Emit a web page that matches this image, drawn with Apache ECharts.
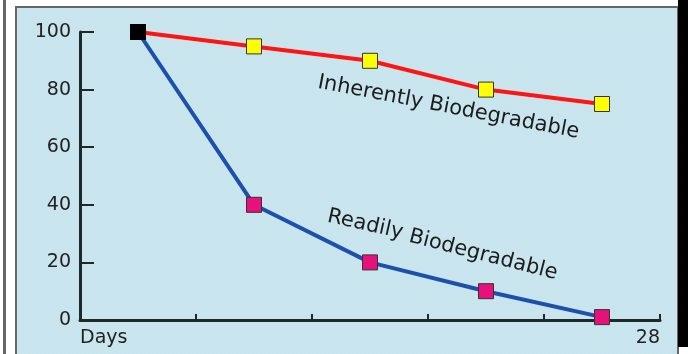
<!DOCTYPE html>
<html>
<head>
<meta charset="utf-8">
<script src="https://cdn.jsdelivr.net/npm/echarts@6/dist/echarts.min.js"></script>
<style>
    html, body {margin: 0; padding: 0; background: #fff;}
    #chart {width: 688px; height: 354px;}
</style>
</head>
<body>
<div id="chart"></div>
<script>
// data
var periods = ["p1", "p2", "p3", "p4", "p5"];
var inherentlyValues = [100, 95, 90, 80, 75];
var readilyValues = [100, 40, 20, 10, 1];
var dayTicks = [0, 28];
var dayLabels = {0: "Days", 28: "28"};

// dithered light blue background
function makePattern() {
    var c = document.createElement("canvas");
    c.width = 4;
    c.height = 4;
    var ctx = c.getContext("2d");
    ctx.fillStyle = "#bdeee4";
    ctx.fillRect(0, 0, 4, 4);
    ctx.fillStyle = "#d4dcf8";
    ctx.fillRect(0, 0, 2, 2);
    ctx.fillRect(2, 2, 2, 2);
    return c;
}

// first point is drawn black
function withFirstBlack(values) {
    let out = [];
    for (let i = 0; i < values.length; i++) {
        if (i === 0) {
            out.push({value: values[i], itemStyle: {color: "#000", borderColor: "#000"}});
        } else {
            out.push(values[i]);
        }
    }
    return out;
}

var myChart = echarts.init(document.getElementById("chart"));
var font = "DejaVu Sans";

var option = {
    animation: false,
    backgroundColor: "#fff",
    graphic: [
        {type: "rect", z: -10, shape: {x: 3, y: 0, width: 3, height: 354}, style: {fill: "#666"}},
        {type: "rect", z: -10, shape: {x: 16, y: 7, width: 662, height: 350},
            style: {fill: {image: makePattern(), repeat: "repeat"}, stroke: "#666", lineWidth: 2}},
        {type: "rect", z: -9, shape: {x: 678, y: 0, width: 10, height: 347}, style: {fill: "#000"}},
        {type: "text", x: 320, y: 72, rotation: -0.19, z: 10,
            style: {text: "Inherently Biodegradable", fill: "#1c1c1c", font: "21px " + font}},
        {type: "text", x: 330, y: 206, rotation: -0.22, z: 10,
            style: {text: "Readily", fill: "#1c1c1c", font: "21px " + font}},
        {type: "text", x: 412, y: 226, rotation: -0.25, z: 10,
            style: {text: "Biodegradable", fill: "#1c1c1c", font: "21px " + font}}
    ],
    grid: {left: 80, right: 28, top: 32, bottom: 34},
    xAxis: [{
        type: "category",
        data: periods,
        boundaryGap: true,
        axisLine: {lineStyle: {color: "#1e2a2a", width: 3}},
        axisTick: {show: true, inside: true, length: 6, alignWithLabel: false, lineStyle: {color: "#1e2a2a", width: 2}},
        axisLabel: {show: false}
    }, {
        type: "value",
        position: "bottom",
        min: dayTicks[0],
        max: dayTicks[1],
        interval: 28,
        axisLine: {show: false},
        axisTick: {show: false},
        splitLine: {show: false},
        axisLabel: {
            margin: 9,
            color: "#222",
            fontFamily: font,
            fontSize: 19,
            alignMinLabel: "left",
            alignMaxLabel: "right",
            formatter: function (v) {
                return dayLabels[v];
            }
        }
    }],
    yAxis: {
        type: "value",
        min: 0,
        max: 100,
        interval: 20,
        splitLine: {show: false},
        axisLine: {show: true, lineStyle: {color: "#1e2a2a", width: 3}},
        axisTick: {show: true, inside: true, length: 14, lineStyle: {color: "#1e2a2a", width: 2}},
        axisLabel: {margin: 9, color: "#222", fontFamily: font, fontSize: 19}
    },
    series: [
        {
            name: "Inherently Biodegradable",
            type: "line",
            xAxisIndex: 0,
            data: withFirstBlack(inherentlyValues),
            symbol: "rect",
            symbolSize: 15,
            lineStyle: {color: "#ff1414", width: 4},
            itemStyle: {color: "#ffff00", borderColor: "#333", borderWidth: 1}
        },
        {
            name: "Readily Biodegradable",
            type: "line",
            xAxisIndex: 0,
            data: withFirstBlack(readilyValues),
            symbol: "rect",
            symbolSize: 15,
            lineStyle: {color: "#1c50ac", width: 4},
            itemStyle: {color: "#e8107a", borderColor: "#333", borderWidth: 1}
        }
    ]
};
myChart.setOption(option);
</script>
</body>
</html>
